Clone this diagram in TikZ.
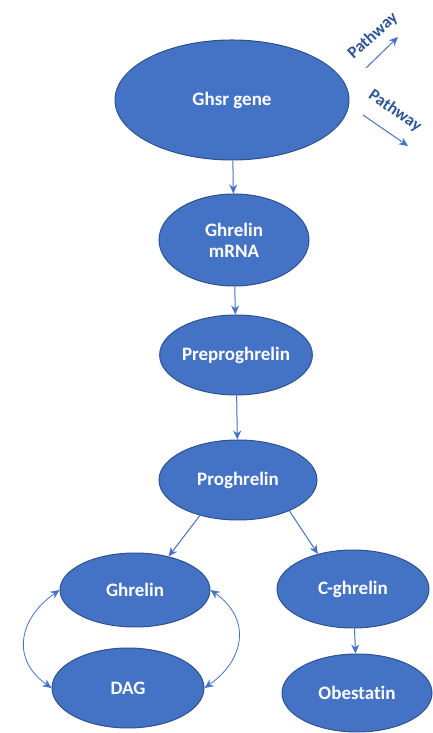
\documentclass[tikz,border=0pt]{standalone}
\usepackage{fontspec}
\setmainfont[Ligatures=NoCommon]{Carlito}
\usetikzlibrary{shapes.geometric,arrows.meta}

\definecolor{stepblue}{HTML}{4472C4}
\definecolor{stepedge}{HTML}{2F528F}
\definecolor{pathblue}{HTML}{2F5597}

\tikzset{
	stage/.style={ellipse, fill=stepblue, draw=stepedge, line width=1pt, inner sep=0pt,
		text=white, font=\fontsize{19}{21}\selectfont\bfseries, align=center},
	flow/.style={-{Stealth[length=9pt,width=8pt]}, stepblue, line width=1pt},
	swap/.style={{Stealth[length=9pt,width=8pt]}-{Stealth[length=9pt,width=8pt]}, stepblue, line width=0.8pt},
	pathlabel/.style={text=pathblue, font=\fontsize{17}{19}\selectfont\bfseries, inner sep=0pt}
}

\begin{document}
\begin{tikzpicture}[x=1pt,y=1pt]
	\useasboundingbox (0,0) rectangle (432,733);
	
	\node[stage, minimum width=234pt, minimum height=120pt] (gene) at (232,633) {Ghsr gene};
	\node[stage, minimum width=150pt, minimum height=92pt] (mrna) at (234,493) {Ghrelin\\mRNA};
	\node[stage, minimum width=152pt, minimum height=80pt] (prepro) at (236,378) {Preproghrelin};
	\node[stage, minimum width=158pt, minimum height=80pt] (pro) at (238,253) {Proghrelin};
	\node[stage, minimum width=150pt, minimum height=74pt] (ghrelin) at (135,143) {Ghrelin};
	\node[stage, minimum width=152pt, minimum height=80pt] (dag) at (128,45) {DAG};
	\node[stage, minimum width=152pt, minimum height=78pt] (cghrelin) at (353,144) {C-ghrelin};
	\node[stage, minimum width=150pt, minimum height=78pt] (obestatin) at (357,40) {Obestatin};
	
	% side pathways of the gene
	\coordinate (upfrom) at (366,665);
	\coordinate (upto) at (398,696);
	\coordinate (downfrom) at (363,618);
	\coordinate (downto) at (408,587);
	\draw[flow] (upfrom) -- (upto);
	\draw[flow] (downfrom) -- (downto);
	\node[pathlabel, rotate=42] (uplabel) at (373,697) {Pathway};
	\node[pathlabel, rotate=-35] (downlabel) at (395,622) {Pathway};
	
	\draw[flow] (gene) -- (mrna);
	\draw[flow] (mrna) -- (prepro);
	\draw[flow] (prepro) -- (pro);
	\draw[flow] (pro.223) -- (ghrelin.45);
	\draw[flow] (pro.329) -- (cghrelin.135);
	\draw[flow] (cghrelin) -- (obestatin);
	
	\draw[swap] (ghrelin.west) to[out=215, in=145, looseness=1.3] (dag.west);
	\draw[swap] (ghrelin.east) to[out=-35, in=35, looseness=1.3] (dag.east);
	
\end{tikzpicture}
\end{document}
